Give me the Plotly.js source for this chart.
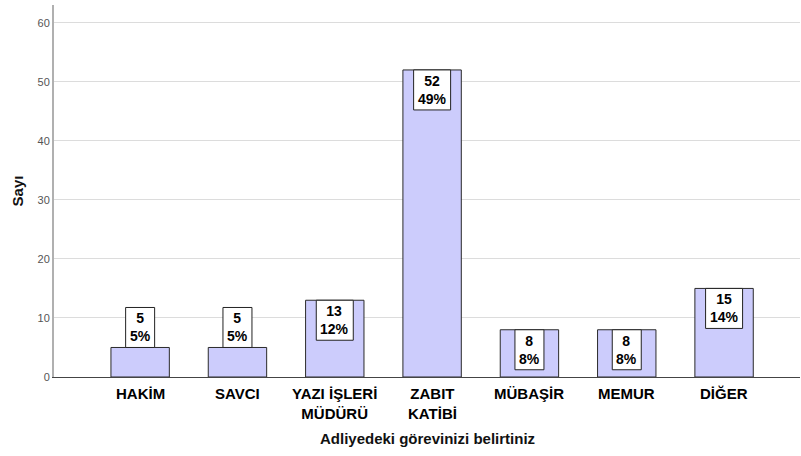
<!DOCTYPE html>
<html>
<head>
<meta charset="utf-8">
<script src="https://cdn.plot.ly/plotly-3.0.1.min.js"></script>
<style>html,body{margin:0;padding:0;background:#fff;}#chart{width:801px;height:456px;}</style>
</head>
<body>
<div id="chart"></div>
<script>
var categories = ["HAKİM", "SAVCI", "YAZI İŞLERİ<br>MÜDÜRÜ", "ZABIT<br>KATİBİ", "MÜBAŞİR", "MEMUR", "DİĞER"];
var counts = [5, 5, 13, 52, 8, 8, 15];
var percents = [5, 5, 12, 49, 8, 8, 14];
var yTicks = [0, 10, 20, 30, 40, 50, 60];
var xTitle = 'Adliyedeki görevinizi belirtiniz';
var yTitle = 'Sayı';

var FONT = 'Liberation Sans, Arial, sans-serif';
var plotH = 456 - 5 - 79;
var yMax = 63;
var pxPerUnit = plotH / yMax;
var boxH = 40;

var shapes = [];
var annotations = [];

counts.forEach(function (v, i) {
  var l1 = String(v), l2 = percents[i] + '%';
  var chars = Math.max(l1.length, l2.length);
  var w = 8 * chars + 13;
  var fits = v * pxPerUnit >= boxH;
  var y0 = fits ? -boxH : 0, y1 = fits ? 0 : boxH;
  var cy = (y0 + y1) / 2;
  shapes.push({
    type: 'rect', layer: 'above',
    xref: 'x', xsizemode: 'pixel', xanchor: i, x0: -w / 2, x1: w / 2,
    yref: 'y', ysizemode: 'pixel', yanchor: v, y0: y0, y1: y1,
    fillcolor: '#ffffff', line: {color: '#222222', width: 1}
  });
  annotations.push({
    x: i, y: v, xref: 'x', yref: 'y', yshift: cy,
    text: l1 + '<br>' + l2, showarrow: false, xanchor: 'center', yanchor: 'middle',
    font: {family: FONT, size: 14, color: '#000', weight: 'bold'}
  });
});

categories.forEach(function (c, i) {
  annotations.push({
    x: i, xref: 'x', y: 0, yref: 'paper', yshift: -6,
    text: c, showarrow: false, xanchor: 'center', yanchor: 'top',
    font: {family: FONT, size: 15, color: '#000', weight: 'bold'}
  });
});

annotations.push({
  x: 0.5, xref: 'paper', y: 0, yref: 'paper', yshift: -61,
  text: xTitle, showarrow: false, xanchor: 'center', yanchor: 'middle',
  font: {family: FONT, size: 15, color: '#111', weight: 'bold'}
});

var trace = {
  type: 'bar',
  x: categories.map(function (c, i) { return i; }),
  y: counts,
  width: 0.6,
  marker: {color: '#ccccfc', line: {color: '#2a2a2a', width: 1}},
  hoverinfo: 'none'
};

var layout = {
  width: 801, height: 456,
  margin: {l: 54, r: 1, t: 5, b: 79},
  paper_bgcolor: '#fff', plot_bgcolor: '#fff',
  showlegend: false,
  font: {family: FONT},
  xaxis: {
    range: [-0.885, 6.78],
    showticklabels: false,
    showgrid: false, zeroline: false,
    showline: true, linecolor: '#444', linewidth: 1,
    ticks: ''
  },
  yaxis: {
    range: [0, yMax],
    tickmode: 'array', tickvals: yTicks, ticktext: yTicks.map(String),
    tickfont: {size: 11, color: '#555'},
    showgrid: true, gridcolor: '#dcdcdc', gridwidth: 1,
    zeroline: false,
    showline: true, linecolor: '#b0b0b0', linewidth: 2,
    ticks: '', ticklen: 0,
    title: {text: yTitle, font: {size: 15, color: '#111', weight: 'bold'}, standoff: 10}
  },
  shapes: shapes,
  annotations: annotations
};

Plotly.newPlot('chart', [trace], layout, {displayModeBar: false, staticPlot: true});
</script>
</body>
</html>
